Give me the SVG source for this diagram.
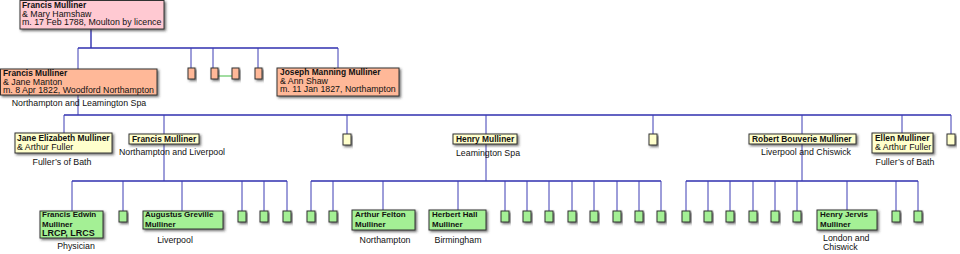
<svg xmlns="http://www.w3.org/2000/svg" width="960" height="254" viewBox="0 0 960 254">
<defs>
<filter id="sh" x="-20%" y="-20%" width="140%" height="160%">
<feDropShadow dx="1.5" dy="1.5" stdDeviation="0.8" flood-color="#333" flood-opacity="0.7"/>
</filter>
<style>
text{font-family:"Liberation Sans",Arial,sans-serif;font-size:8.8px;fill:#111}
.b{font-weight:bold;font-size:8.4px}
.k{font-weight:bold;font-size:8px}
.c{text-anchor:middle}
rect{stroke:#333;stroke-width:1;filter:url(#sh)}
.g1{fill:#ffc9d2}
.g2{fill:#ffb898}
.g3{fill:#ffffcc}
.g4{fill:#a4f095}
.ln{stroke:#3c3cb4;stroke-width:1;fill:none}
.main{stroke:#3030b0;stroke-width:1.4;fill:none}
.sp{stroke:#44bb44;stroke-width:1;fill:none}
</style>
</defs>
<g id="connectors">
<path class="main" d="M91 29V48M78 48H338M64 115H951M164 181H72M486 181H311M802 181H686M164 181H287M486 181H661M802 181H918"/>
<path class="ln" d="M78 48V69M191 48V68M213 48V68M258 48V68M338 48V68M78 95V115M64 115V133M164 115V181M347 115V134M486 115V181M653 115V134M802 115V181M902 115V133M951 115V134M72 181V211M123 181V211M182 181V211M242 181V211M264 181V211M287 181V211M311 181V211M333 181V211M383 181V210M458 181V210M505 181V211M527 181V211M549 181V211M572 181V211M594 181V211M617 181V211M639 181V211M661 181V211M686 181V211M708 181V211M730 181V211M753 181V211M775 181V211M797 181V211M847 181V210M896 181V211M918 181V211"/>
<path class="sp" d="M218 76H232"/>
</g>
<g id="n_francis_1788">
<rect class="g1" x="20" y="0.5" width="144" height="28.5"/>
<text x="22" y="8" class="b">Francis Mulliner</text>
<text x="22" y="16.5">&amp; Mary Hamshaw</text>
<text x="22" y="25">m. 17 Feb 1788, Moulton by licence</text>
</g>
<g id="n_francis_1822">
<rect class="g2" x="0.5" y="69" width="156.5" height="26"/>
<text x="3" y="76" class="b">Francis Mulliner</text>
<text x="3" y="84.5">&amp; Jane Manton</text>
<text x="3" y="93">m. 8 Apr 1822, Woodford Northampton</text>
<text x="79" y="106" class="c">Northampton and Leamington Spa</text>
</g>
<g id="n_u2a"><rect class="g2" x="188" y="68" width="7" height="11"/></g>
<g id="n_u2b"><rect class="g2" x="211" y="68" width="7" height="11"/></g>
<g id="n_u2c"><rect class="g2" x="232" y="68" width="7" height="11"/></g>
<g id="n_u2d"><rect class="g2" x="255" y="68" width="7" height="11"/></g>
<g id="n_joseph">
<rect class="g2" x="277" y="68" width="122" height="28"/>
<text x="280" y="75" class="b">Joseph Manning Mulliner</text>
<text x="280" y="83.5">&amp; Ann Shaw</text>
<text x="280" y="92">m. 11 Jan 1827, Northampton</text>
</g>
<g id="n_jane">
<rect class="g3" x="15" y="133" width="97" height="20"/>
<text x="17" y="141" class="b">Jane Elizabeth Mulliner</text>
<text x="17" y="149.5">&amp; Arthur Fuller</text>
<text x="62" y="165" class="c">Fuller’s of Bath</text>
</g>
<g id="n_francis_l3">
<rect class="g3" x="129" y="134" width="70" height="10"/>
<text x="132" y="142" class="b">Francis Mulliner</text>
<text x="172" y="155" class="c">Northampton and Liverpool</text>
</g>
<g id="n_u3a"><rect class="g3" x="343" y="134" width="8" height="11"/></g>
<g id="n_henry">
<rect class="g3" x="453" y="134" width="64" height="10"/>
<text x="456" y="142" class="b">Henry Mulliner</text>
<text x="488" y="156" class="c">Leamington Spa</text>
</g>
<g id="n_u3b"><rect class="g3" x="649" y="134" width="8" height="11"/></g>
<g id="n_robert">
<rect class="g3" x="749" y="134" width="107" height="10"/>
<text x="752" y="142" class="b">Robert Bouverie Mulliner</text>
<text x="806" y="155" class="c">Liverpool and Chiswick</text>
</g>
<g id="n_ellen">
<rect class="g3" x="872" y="133" width="61" height="20"/>
<text x="875" y="141" class="b">Ellen Mulliner</text>
<text x="875" y="149.5">&amp; Arthur Fuller</text>
<text x="905" y="165" class="c">Fuller’s of Bath</text>
</g>
<g id="n_u3c"><rect class="g3" x="947" y="134" width="8" height="11"/></g>
<g id="n_francis_edwin">
<rect class="g4" x="40" y="211" width="63" height="27"/>
<text x="42" y="217.3" class="k">Francis Edwin</text>
<text x="42" y="226.5" class="k">Mulliner</text>
<text x="42" y="236" class="k" style="font-size:9px">LRCP, LRCS</text>
<text x="76" y="249" class="c">Physician</text>
</g>
<g id="n_augustus">
<rect class="g4" x="143" y="211" width="80" height="18"/>
<text x="145" y="217.3" class="k">Augustus Greville</text>
<text x="145" y="226.5" class="k">Mulliner</text>
<text x="175" y="243" class="c">Liverpool</text>
</g>
<g id="n_arthur">
<rect class="g4" x="352" y="210" width="63" height="20"/>
<text x="355" y="217.3" class="k">Arthur Felton</text>
<text x="355" y="226.5" class="k">Mulliner</text>
<text x="385" y="243" class="c">Northampton</text>
</g>
<g id="n_herbert">
<rect class="g4" x="429" y="210" width="57" height="20"/>
<text x="432" y="217.3" class="k">Herbert Hall</text>
<text x="432" y="226.5" class="k">Mulliner</text>
<text x="458" y="243" class="c">Birmingham</text>
</g>
<g id="n_henry_jervis">
<rect class="g4" x="817" y="210" width="60" height="20"/>
<text x="820" y="217.3" class="k">Henry Jervis</text>
<text x="820" y="226.5" class="k">Mulliner</text>
<text x="823" y="241">London and</text>
<text x="823" y="249.5">Chiswick</text>
</g>
<g id="n_u4_1"><rect class="g4" x="119" y="211" width="8" height="11"/></g>
<g id="n_u4_2"><rect class="g4" x="238" y="211" width="8" height="11"/></g>
<g id="n_u4_3"><rect class="g4" x="260" y="211" width="8" height="11"/></g>
<g id="n_u4_4"><rect class="g4" x="283" y="211" width="8" height="11"/></g>
<g id="n_u4_5"><rect class="g4" x="307" y="211" width="8" height="11"/></g>
<g id="n_u4_6"><rect class="g4" x="329" y="211" width="8" height="11"/></g>
<g id="n_u4_7"><rect class="g4" x="501" y="211" width="8" height="11"/></g>
<g id="n_u4_8"><rect class="g4" x="523" y="211" width="8" height="11"/></g>
<g id="n_u4_9"><rect class="g4" x="545" y="211" width="8" height="11"/></g>
<g id="n_u4_10"><rect class="g4" x="568" y="211" width="8" height="11"/></g>
<g id="n_u4_11"><rect class="g4" x="590" y="211" width="8" height="11"/></g>
<g id="n_u4_12"><rect class="g4" x="613" y="211" width="8" height="11"/></g>
<g id="n_u4_13"><rect class="g4" x="635" y="211" width="8" height="11"/></g>
<g id="n_u4_14"><rect class="g4" x="657" y="211" width="8" height="11"/></g>
<g id="n_u4_15"><rect class="g4" x="682" y="211" width="8" height="11"/></g>
<g id="n_u4_16"><rect class="g4" x="704" y="211" width="8" height="11"/></g>
<g id="n_u4_17"><rect class="g4" x="726" y="211" width="8" height="11"/></g>
<g id="n_u4_18"><rect class="g4" x="749" y="211" width="8" height="11"/></g>
<g id="n_u4_19"><rect class="g4" x="771" y="211" width="8" height="11"/></g>
<g id="n_u4_20"><rect class="g4" x="793" y="211" width="8" height="11"/></g>
<g id="n_u4_21"><rect class="g4" x="892" y="211" width="8" height="11"/></g>
<g id="n_u4_22"><rect class="g4" x="914" y="211" width="8" height="11"/></g>
</svg>
